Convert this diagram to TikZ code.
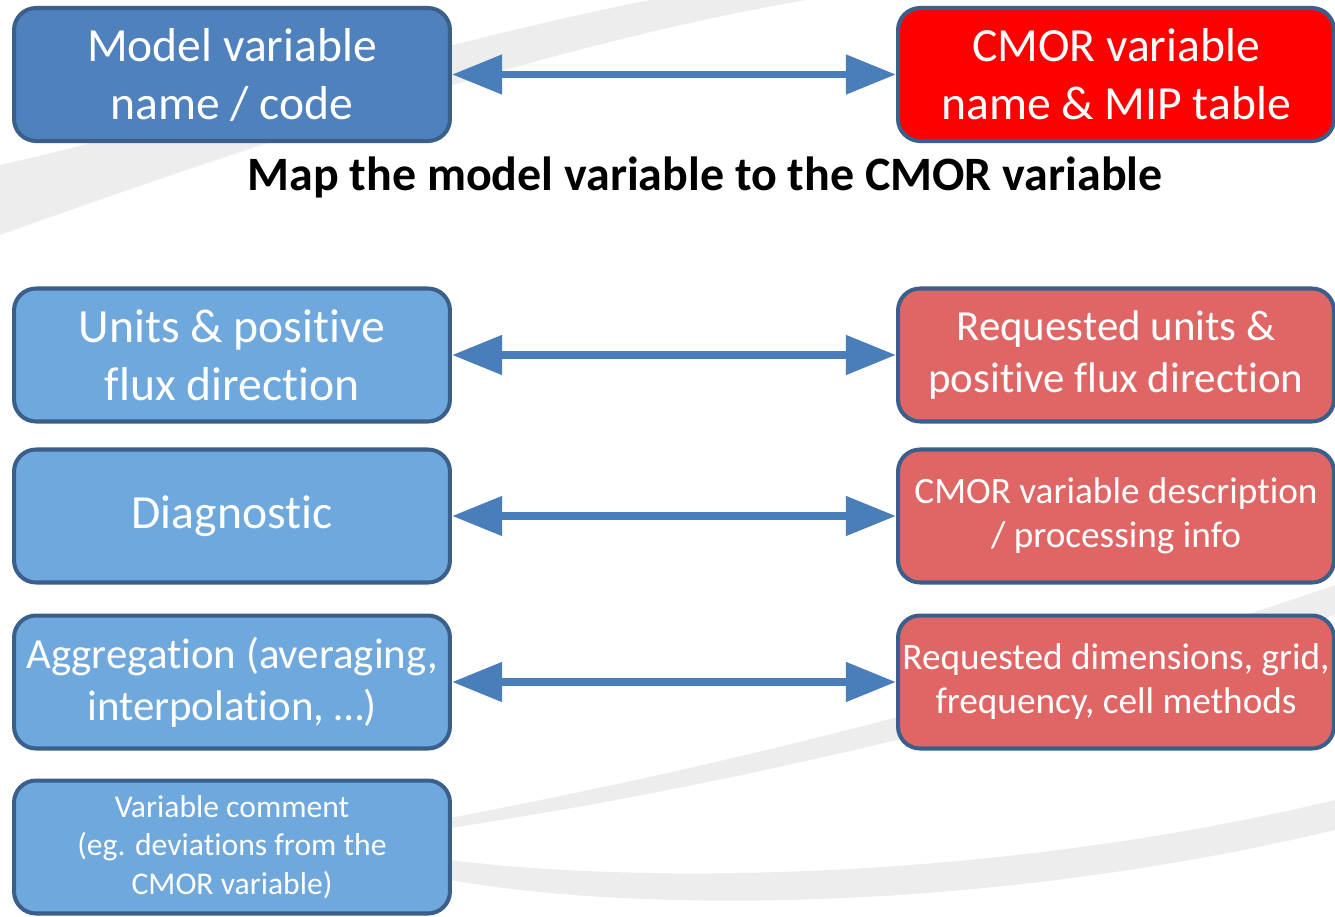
\documentclass[tikz,border=0pt]{standalone}
\usepackage{fontspec}
\setmainfont{Carlito}[Ligatures=NoCommon]
\usepackage{tikz}
\usetikzlibrary{arrows.meta,positioning}
\definecolor{mvblue}{RGB}{79,129,189}
\definecolor{mvlight}{RGB}{111,168,220}
\definecolor{cmred}{RGB}{255,0,0}
\definecolor{cmlight}{RGB}{224,102,102}
\definecolor{edgeblue}{RGB}{58,95,139}
\definecolor{linkblue}{RGB}{74,126,187}
\definecolor{swoosh}{RGB}{237,237,237}
\tikzstyle{box} = [draw=edgeblue, line width=2.3pt, rounded corners=12.5pt, minimum width=8.72cm, minimum height=2.66cm, align=center, text=white, inner sep=0pt]
\tikzstyle{big} = [font=\fontsize{27.1}{33}\selectfont]
\tikzstyle{mid} = [font=\fontsize{24.4}{29.6}\selectfont]
\tikzstyle{small} = [font=\fontsize{21.2}{25}\selectfont]
\tikzstyle{tiny} = [font=\fontsize{18}{21.9}\selectfont]
\tikzstyle{link} = [line width=4.5pt, color=linkblue, <->, >={Triangle[length=28.5pt,width=21.6pt]}]

\begin{document}
\begin{tikzpicture}[x=0.02cm, y=-0.02cm]
\useasboundingbox (0,0) rectangle (1335,916);

% Background swooshes
\fill[swoosh] (0,165) .. controls (200,120) and (400,50) .. (650,0) -- (807,0)
  .. controls (600,35) and (350,110) .. (0,235) -- cycle;
\fill[swoosh] (450,818) .. controls (700,770) and (1000,700) .. (1335,585) -- (1335,615)
  .. controls (1000,725) and (700,790) .. (450,828) -- cycle;
\fill[swoosh] (450,860) .. controls (650,885) and (1000,880) .. (1335,800) -- (1335,830)
  .. controls (1000,910) and (650,915) .. (450,880) -- cycle;

% Top row
\node[box, fill=mvblue, big] (modvar) at (232,74.5) {Model variable\\name / code};
\node[box, fill=cmred, big] (cmorvar) at (1116,74.5) {CMOR variable\\name \& MIP table};
\node[font=\bfseries\fontsize{27.3}{32}\selectfont] (maptitle) at (705,177) {Map the model variable to the CMOR variable};

% Left column
\node[box, fill=mvlight, big] (units) at (232,355) {Units \& positive\\flux direction};
\node[box, fill=mvlight, big] (diag) at (232,516) {Diagnostic};
\node[box, fill=mvlight, mid] (aggr) at (232,682) {Aggregation (averaging,\\interpolation, …)};
\node[box, fill=mvlight, tiny] (comment) at (232,847) {Variable comment\\(eg. deviations from the\\CMOR variable)};

% Right column
\node[box, fill=cmlight, mid] (requnits) at (1116,355) {Requested units \&\\positive flux direction};
\node[box, fill=cmlight, small] (descr) at (1116,516) {CMOR variable description\\/ processing info};
\node[box, fill=cmlight, small] (reqdims) at (1116,682) {Requested dimensions, grid,\\frequency, cell methods};

% Arrows
\draw[link] (modvar.east) -- (cmorvar.west);
\draw[link] (units.east) -- (requnits.west);
\draw[link] (diag.east) -- (descr.west);
\draw[link] (aggr.east) -- (reqdims.west);
\end{tikzpicture}
\end{document}
